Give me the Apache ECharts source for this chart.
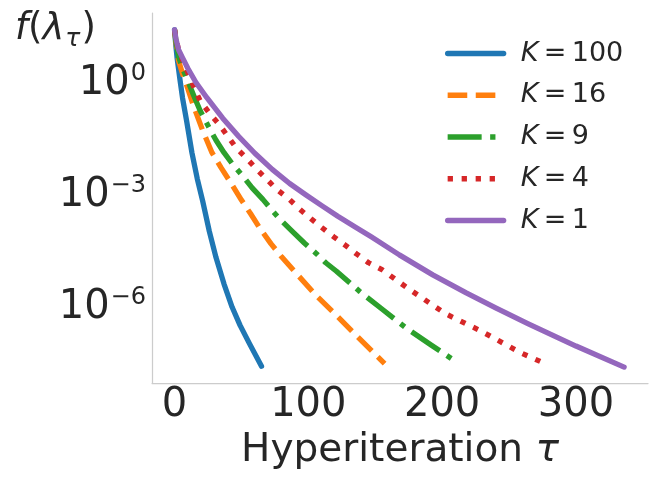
<!DOCTYPE html>
<html><head><meta charset="utf-8">
<script src="https://cdn.jsdelivr.net/npm/echarts@6/dist/echarts.min.js"></script>
<style>html,body{margin:0;padding:0;background:#fff}#c{width:658px;height:483px}</style>
</head><body><div id="c"></div>
<script>
// ---- data ----
const seriesNames = ['100', '16', '9', '4', '1'];

const tauK100 = [0, 1, 2, 4, 6, 9, 13, 17, 21, 26, 31, 37, 43, 49, 56, 65];
const fK100 = [27, 10, 4.5, 1.3, 0.40, 0.10, 1.4e-2, 2.8e-3, 7.2e-4, 1.1e-4, 2.2e-5, 4.3e-6, 1.05e-6, 3.4e-7, 1.1e-7, 2.75e-8];

const tauK16 = [0, 1, 3, 6, 10, 14, 21, 28, 35, 42, 50, 57, 64, 72, 80, 91, 106, 121, 136, 157];
const fK16 = [27, 12.6, 4.0, 1.8, 0.71, 0.26, 5.5e-2, 1.4e-2, 5.4e-3, 2.2e-3, 7.6e-4, 3.2e-4, 1.3e-4, 5.2e-5, 2.3e-5, 8.3e-6, 2.1e-6, 6.3e-7, 1.8e-7, 3.2e-8];

const tauK9 = [0, 1, 3, 6, 9, 14, 19, 25, 31, 37, 43, 52, 58, 66, 74, 80, 88, 97, 106, 113, 121, 138, 155, 173, 192, 210];
const fK9 = [27, 14.1, 5.2, 2.5, 1.4, 0.5, 0.19, 7.4e-2, 3.0e-2, 1.4e-2, 7.2e-3, 3.0e-3, 1.6e-3, 7.9e-4, 3.6e-4, 2.1e-4, 1.1e-4, 5.4e-5, 2.8e-5, 1.6e-5, 9.5e-6, 2.8e-6, 9.3e-7, 2.9e-7, 1.0e-7, 3.7e-8];

const tauK4 = [0, 1, 3, 6, 12, 19, 26, 34, 46, 54, 61, 69, 76, 86, 93, 102, 110, 119, 128, 136, 145, 155, 173, 188, 203, 229, 259, 278];
const fK4 = [27, 15.8, 7.9, 4.2, 1.26, 0.35, 0.16, 7.4e-2, 1.9e-2, 9.8e-3, 5.2e-3, 2.7e-3, 1.5e-3, 7.8e-4, 4.5e-4, 2.4e-4, 1.4e-4, 7.9e-5, 4.6e-5, 2.75e-5, 1.6e-5, 1.05e-5, 3.6e-6, 1.55e-6, 6.8e-7, 2.4e-7, 6.2e-8, 3.1e-8];

const tauK1 = [0, 1, 3, 6, 10, 16, 24, 36, 48, 60, 73, 86, 98, 110, 122, 135, 147, 168, 193, 218, 240, 264, 300, 336];
const fK1 = [27, 15.8, 7.9, 4.8, 2.5, 1.05, 0.42, 0.117, 3.8e-2, 1.35e-2, 5.0e-3, 2.1e-3, 1.05e-3, 5.4e-4, 2.8e-4, 1.45e-4, 7.9e-5, 2.6e-5, 7.6e-6, 2.5e-6, 1.0e-6, 3.8e-7, 9.5e-8, 2.6e-8];

const xTickValues = [0, 100, 200, 300];
const yTickValues = [1e-6, 1e-3, 1];

// ---- styling ----
const FONT = 'DejaVu Sans';
const TXT = '#262626';
const colors = ['#1f77b4', '#ff7f0e', '#2ca02c', '#d62728', '#9467bd'];
const LW = 5.3;
const dashes = ['solid', [19.6, 8.5], [34, 8.5, 5.3, 8.5], [5.3, 8.7], 'solid'];
const taus = [tauK100, tauK16, tauK9, tauK4, tauK1];
const vals = [fK100, fK16, fK9, fK4, fK1];

const series = seriesNames.map((nm, k) => ({
  type: 'line',
  name: nm,
  data: taus[k].map((t, i) => [t, vals[k][i]]),
  showSymbol: false,
  symbol: 'none',
  smooth: false,
  lineStyle: {
    color: colors[k],
    width: LW,
    type: dashes[k],
    cap: dashes[k] === 'solid' ? 'round' : 'butt',
    join: 'round'
  },
  itemStyle: { color: colors[k] },
  emphasis: { disabled: true },
  z: 2 + k
}));

const chart = echarts.init(document.getElementById('c'), null, { renderer: 'canvas' });
chart.setOption({
  animation: false,
  backgroundColor: '#ffffff',
  textStyle: { fontFamily: FONT, color: TXT },
  title: {
    text: '{i|f}{n|(}{i|λ}{sub|τ}{n|)}',
    left: 10,
    top: 1,
    textStyle: {
      fontWeight: 'normal',
      rich: {
        i: { fontFamily: FONT, fontSize: 37, fontStyle: 'italic', fontWeight: 'normal', color: TXT, lineHeight: 46 },
        n: { fontFamily: FONT, fontSize: 37, fontWeight: 'normal', color: TXT, lineHeight: 46 },
        sub: { fontFamily: FONT, fontSize: 25, fontStyle: 'italic', fontWeight: 'normal', color: TXT, lineHeight: 30, verticalAlign: 'bottom', padding: [0, 1, 0, 1] }
      }
    }
  },
  legend: {
    orient: 'vertical',
    left: 440,
    top: 35,
    itemWidth: 56,
    itemHeight: 30,
    itemGap: 14.75,
    data: seriesNames,
    itemStyle: { opacity: 0, color: 'rgba(0,0,0,0)', borderWidth: 0 },
    lineStyle: { width: LW },
    formatter: nm => '{i|K}{n|\u2009=\u2009' + nm + '}',
    textStyle: {
      rich: {
        i: { fontFamily: FONT, fontSize: 27, fontStyle: 'italic', color: TXT, padding: [0, 0, 0, 12] },
        n: { fontFamily: FONT, fontSize: 27, color: TXT }
      }
    }
  },
  grid: { left: 152, right: 10, top: 13, bottom: 100, containLabel: false, outerBoundsMode: 'none' },
  xAxis: {
    type: 'value',
    min: -16.85,
    max: 353.85,
    name: '{n|Hyperiteration }{i|τ}',
    nameLocation: 'middle',
    nameGap: 46,
    nameTextStyle: {
      rich: {
        n: { fontFamily: FONT, fontSize: 39, color: TXT },
        i: { fontFamily: FONT, fontSize: 39, fontStyle: 'italic', color: TXT }
      }
    },
    axisLine: { show: true, onZero: false, lineStyle: { color: '#cccccc', width: 1.25 } },
    axisTick: { show: false },
    splitLine: { show: false },
    axisLabel: {
      customValues: xTickValues,
      fontFamily: FONT,
      fontSize: 40,
      color: TXT,
      margin: 3
    }
  },
  yAxis: {
    type: 'log',
    logBase: 10,
    min: Math.pow(10, -8.01),
    max: Math.pow(10, 1.88),
    axisLine: { show: true, onZero: false, lineStyle: { color: '#cccccc', width: 1.25 } },
    axisTick: { show: false },
    splitLine: { show: false },
    axisLabel: {
      customValues: yTickValues,
      margin: 6,
      formatter: v => {
        const e = Math.round(Math.log10(v));
        return '{b|10}{s|' + (e < 0 ? '\u2212' + (-e) : String(e)) + '}';
      },
      rich: {
        b: { fontFamily: FONT, fontSize: 40, color: TXT, lineHeight: 44 },
        s: { fontFamily: FONT, fontSize: 24, color: TXT, lineHeight: 24, verticalAlign: 'top', padding: [0, 0, 0, 1] }
      }
    }
  },
  series: series
});
</script>
</body></html>
